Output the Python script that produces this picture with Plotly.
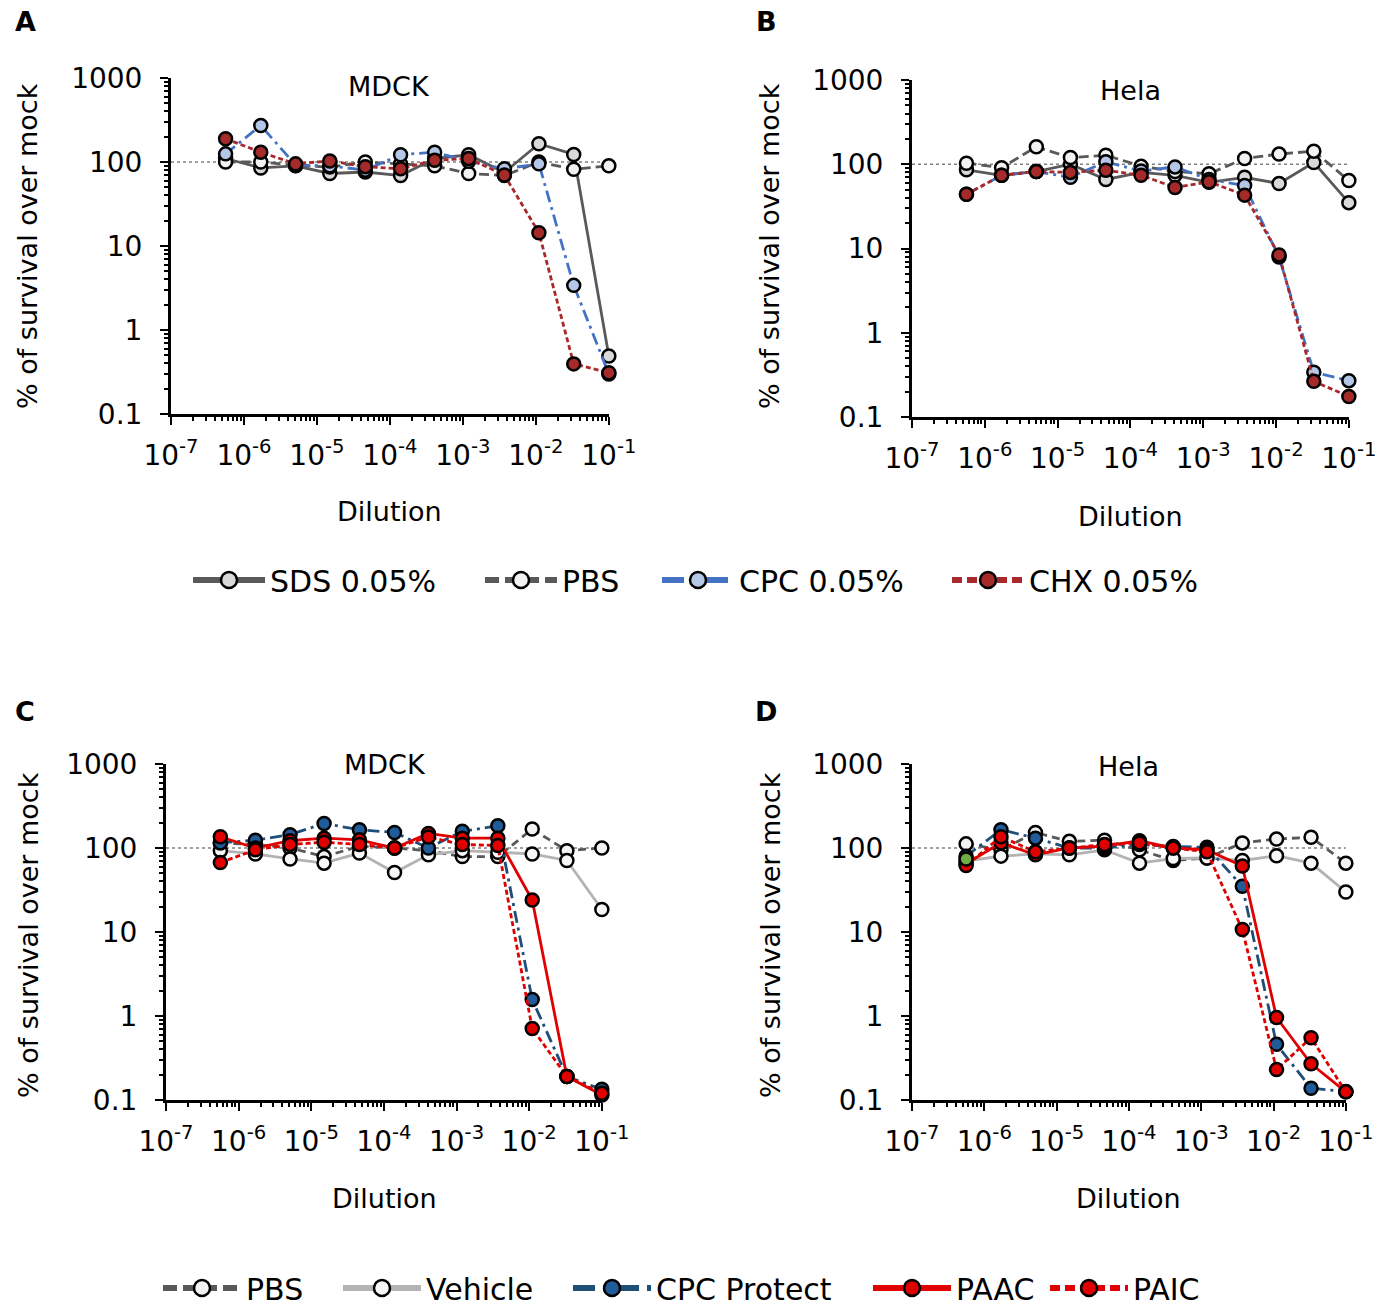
import plotly.graph_objects as go

W, H = 1392, 1306

# ---------------- data ----------------
DILUTION = [5.6e-7, 1.7e-6, 5.1e-6, 1.5e-5, 4.6e-5, 1.4e-4, 4.1e-4, 1.2e-3, 3.7e-3, 1.1e-2, 3.3e-2, 1.0e-1]
X_EXPONENTS = [-7, -6, -5, -4, -3, -2, -1]
X_TICK_LABELS = [f"10<sup>{e}</sup>" for e in X_EXPONENTS]
Y_TICK_VALUES = [0.1, 1, 10, 100, 1000]
Y_TICK_LABELS = ["0.1", "1", "10", "100", "1000"]
REF_LEVEL = 100

# Panel A (MDCK)
A_SDS = [110, 85, 90, 73, 76, 69, 110, 122, 75, 165, 123, 0.49]
A_PBS = [100, 100, 91, 87, 100, 95, 90, 73, 69, 100, 82, 90]
A_CPC = [125, 272, 92, 90, 80, 122, 131, 102, 83, 95, 3.4, 0.30]
A_CHX = [189, 131, 95, 103, 88, 83, 105, 110, 70, 14.4, 0.395, 0.31]

# Panel B (Hela)
B_SDS = [86, 74, 82, 100, 66, 80, 74, 61, 70, 59, 105, 35]
B_PBS = [103, 91, 161, 120, 128, 95, 82, 77, 117, 132, 143, 64]
B_CPC = [44, 74, 82, 70, 107, 83, 93, 66, 56, 7.9, 0.34, 0.27]
B_CHX = [44, 74, 82, 80, 85, 74, 53, 62, 43, 8.4, 0.265, 0.175]

# Panel C (MDCK)
C_PBS = [115, 110, 100, 79, 105, 100, 93, 79, 79, 168, 93, 100]
C_VEH = [93, 85, 74, 66, 87, 51, 83, 93, 89, 85, 71, 18.5]
C_CPCP = [115, 124, 144, 196, 165, 153, 100, 158, 184, 1.57, 0.19, 0.134]
C_PAAC = [136, 100, 122, 131, 125, 100, 149, 131, 131, 24, 0.19, 0.115]
C_PAIC = [67, 95, 110, 117, 110, 100, 135, 110, 107, 0.71, 0.19, 0.12]

# Panel D (Hela)
D_PBS = [112, 95, 153, 120, 124, 95, 71, 76, 115, 128, 134, 66]
D_VEH = [70, 80, 85, 83, 95, 66, 75, 76, 71, 81, 66, 30]
D_CPCP = [80, 165, 131, 100, 100, 110, 104, 102, 35, 0.46, 0.138, 0.126]
D_PAAC = [65, 115, 83, 100, 105, 122, 100, 95, 61, 0.96, 0.27, 0.125]
D_PAIC = [62, 136, 90, 100, 110, 115, 100, 90, 10.7, 0.23, 0.55, 0.125]
D_GREEN = [74]

FONT = "DejaVu Sans"

# ---------------- styles ----------------
STY_TOP = {
    "SDS 0.05%": dict(color="#595959", dash="solid", fill="#d9d9d9"),
    "PBS": dict(color="#595959", dash="10px,5px", fill="#f2f2f2"),
    "CPC 0.05%": dict(color="#4472c4", dash="12px,5px,3px,5px", fill="#b4c7e7"),
    "CHX 0.05%": dict(color="#a8282b", dash="5px,3px", fill="#a52a2a"),
}
STY_BOT = {
    "PBS": dict(color="#595959", dash="8px,5px", fill="#f2f2f2"),
    "Vehicle": dict(color="#b3b3b3", dash="solid", fill="#f7f7f7"),
    "CPC Protect": dict(color="#1f4e79", dash="12px,5px,3px,5px", fill="#1f5c99"),
    "PAAC": dict(color="#e00000", dash="solid", fill="#e00000"),
    "PAIC": dict(color="#e00000", dash="5px,3px", fill="#e00000"),
}
LEG_DASH = {"10px,5px": "14px,6px", "8px,5px": "14px,6px",
            "12px,5px,3px,5px": "22px,8px,6px,8px", "5px,3px": "10px,5px"}

# legend key left edges (px) and row centres
TOP_LEG_X = [193, 485, 662, 952]
BOT_LEG_X = [163, 343, 573, 873, 1050]
TOP_LEG_Y = 580
BOT_LEG_Y = 1288

fig = go.Figure()


def ax_ids(ax):
    return ("x" if ax == 1 else f"x{ax}"), ("y" if ax == 1 else f"y{ax}")


def add_series(name, ys, sty, ax):
    xa, ya = ax_ids(ax)
    fig.add_trace(go.Scatter(
        x=DILUTION, y=ys, name=name, mode="lines+markers",
        xaxis=xa, yaxis=ya, showlegend=False, cliponaxis=False,
        line=dict(color=sty["color"], width=2.8, dash=sty["dash"]),
        marker=dict(size=13, color=sty["fill"], line=dict(color="black", width=2.5)),
    ))


def add_legend_entry(name, sty, ax, legend):
    # empty trace: appears only as a legend key (thicker line, bigger marker)
    xa, ya = ax_ids(ax)
    fig.add_trace(go.Scatter(
        x=[None], y=[None], name=name, mode="lines+markers",
        xaxis=xa, yaxis=ya, legend=legend, showlegend=True,
        line=dict(color=sty["color"], width=6, dash=LEG_DASH.get(sty["dash"], sty["dash"])),
        marker=dict(size=16, color=sty["fill"], line=dict(color="black", width=2.5)),
    ))


def add_ref(ax):
    xa, ya = ax_ids(ax)
    fig.add_trace(go.Scatter(
        x=[10 ** X_EXPONENTS[0], 10 ** X_EXPONENTS[-1]], y=[REF_LEVEL, REF_LEVEL],
        mode="lines", xaxis=xa, yaxis=ya, showlegend=False, hoverinfo="skip",
        line=dict(color="#808080", width=1.5, dash="3px,3px"),
    ))


for ax in (1, 2, 3, 4):
    add_ref(ax)

top_sets = [(1, [A_SDS, A_PBS, A_CPC, A_CHX]), (2, [B_SDS, B_PBS, B_CPC, B_CHX])]
for ax, sets in top_sets:
    for (name, sty), ys in zip(STY_TOP.items(), sets):
        add_series(name, ys, sty, ax)

bot_sets = [(3, [C_PBS, C_VEH, C_CPCP, C_PAAC, C_PAIC]), (4, [D_PBS, D_VEH, D_CPCP, D_PAAC, D_PAIC])]
for ax, sets in bot_sets:
    for (name, sty), ys in zip(STY_BOT.items(), sets):
        add_series(name, ys, sty, ax)

fig.add_trace(go.Scatter(
    x=DILUTION[:1], y=D_GREEN, mode="markers", xaxis="x4", yaxis="y4",
    showlegend=False, cliponaxis=False,
    marker=dict(size=13, color="#70ad47", line=dict(color="black", width=2.5)),
))


# ---------------- helpers ----------------
def px_x(p):
    return p / W


def px_y(p):
    return 1 - p / H


legend_layout = {}


def leg_style(itemwidth):
    return dict(
        orientation="h", xanchor="left", yanchor="middle",
        font=dict(family=FONT, size=30, color="black"), itemwidth=itemwidth,
        bgcolor="rgba(0,0,0,0)", borderwidth=0,
    )


k = 1
for (name, sty), lx in zip(STY_TOP.items(), TOP_LEG_X):
    lid = "legend" if k == 1 else f"legend{k}"
    add_legend_entry(name, sty, 1, lid)
    legend_layout[lid] = dict(x=px_x(lx - 5), y=px_y(TOP_LEG_Y), **leg_style(72))
    k += 1
for (name, sty), lx in zip(STY_BOT.items(), BOT_LEG_X):
    lid = f"legend{k}"
    add_legend_entry(name, sty, 3, lid)
    legend_layout[lid] = dict(x=px_x(lx - 5), y=px_y(BOT_LEG_Y), **leg_style(78))
    k += 1

# ---------------- axes ----------------
domains = {
    1: ([171, 609], [414, 78]),
    2: ([912, 1349], [417, 80]),
    3: ([166, 602], [1100, 764]),
    4: ([912, 1346], [1100, 764]),
}

X_MINOR = [m * 10.0 ** e for e in X_EXPONENTS[:-1] for m in range(2, 10)]
Y_MINOR = [m * v for v in Y_TICK_VALUES[:-1] for m in range(2, 10)]


def minor(vals):
    return dict(tickmode="array", tickvals=vals, ticks="outside", ticklen=4,
                tickwidth=1.5, tickcolor="black", showgrid=False)


layout_axes = {}
for ax, (xd, yd) in domains.items():
    sx = "" if ax == 1 else str(ax)
    layout_axes[f"xaxis{sx}"] = dict(
        type="log", range=[X_EXPONENTS[0], X_EXPONENTS[-1] + 0.002],
        domain=[px_x(xd[0]), px_x(xd[1])], anchor=f"y{sx}",
        tickmode="array", tickvals=[10.0 ** e for e in X_EXPONENTS], ticktext=X_TICK_LABELS,
        tickangle=0,
        showline=True, linewidth=3, linecolor="black", showgrid=False, zeroline=False,
        ticks="outside", ticklen=8, tickwidth=2, tickcolor="black",
        ticklabelstandoff=6, minor=minor(X_MINOR),
        tickfont=dict(family=FONT, size=28, color="black"),
    )
    layout_axes[f"yaxis{sx}"] = dict(
        type="log", range=[-1, 3], domain=[px_y(yd[0]), px_y(yd[1])],
        anchor=f"x{sx}",
        tickmode="array", tickvals=Y_TICK_VALUES, ticktext=Y_TICK_LABELS,
        showline=True, linewidth=3, linecolor="black", showgrid=False, zeroline=False,
        ticks="outside", ticklen=8, tickwidth=2, tickcolor="black",
        ticklabelstandoff=12, minor=minor(Y_MINOR),
        tickfont=dict(family=FONT, size=28, color="black"),
    )

fig.update_layout(**layout_axes)

# ---------------- text ----------------
texts = [
    ("A", 25, 22, 27, True, 0),
    ("B", 766, 22, 27, True, 0),
    ("C", 25, 712, 27, True, 0),
    ("D", 766, 712, 27, True, 0),
    ("MDCK", 389, 87, 27, False, 0),
    ("Hela", 1130, 90, 27, False, 0),
    ("MDCK", 385, 764, 27, False, 0),
    ("Hela", 1128, 766, 27, False, 0),
    ("Dilution", 389, 511, 27, False, 0),
    ("Dilution", 1130, 516, 27, False, 0),
    ("Dilution", 385, 1198, 27, False, 0),
    ("Dilution", 1128, 1198, 27, False, 0),
    ("% of survival over mock", 28, 246, 27, False, -90),
    ("% of survival over mock", 770, 246, 27, False, -90),
    ("% of survival over mock", 28, 935, 27, False, -90),
    ("% of survival over mock", 770, 935, 27, False, -90),
]
annotations = []
for t, x, y, s, bold, rot in texts:
    annotations.append(dict(
        text=f"<b>{t}</b>" if bold else t, x=px_x(x), y=px_y(y),
        xref="paper", yref="paper", xanchor="center", yanchor="middle",
        showarrow=False, textangle=rot,
        font=dict(family=FONT, size=s, color="black"),
    ))

fig.update_layout(
    width=W, height=H, autosize=False,
    margin=dict(l=0, r=0, t=0, b=0, autoexpand=False),
    paper_bgcolor="white", plot_bgcolor="white",
    annotations=annotations,
    font=dict(family=FONT, color="black"),
    showlegend=True,
    **legend_layout,
)

fig.write_html("out.html", config={"displayModeBar": False},
               post_script="document.body.style.margin='0';")
